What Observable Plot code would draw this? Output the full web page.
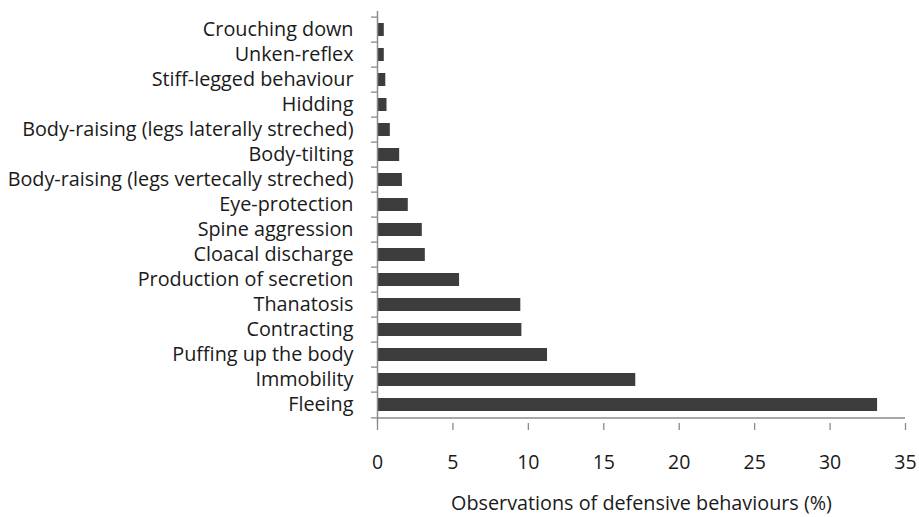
<!DOCTYPE html>
<html>
<head>
<meta charset="utf-8">
<script src="https://cdn.jsdelivr.net/npm/d3@7"></script>
<script src="https://cdn.jsdelivr.net/npm/@observablehq/plot@0.6"></script>
<style>
  html, body { margin: 0; padding: 0; background: #fff; }
  #chart svg { display: block; }
</style>
</head>
<body>
<div id="chart"></div>
<script>
const categories = [
  "Crouching down",
  "Unken-reflex",
  "Stiff-legged behaviour",
  "Hidding",
  "Body-raising (legs laterally streched)",
  "Body-tilting",
  "Body-raising (legs vertecally streched)",
  "Eye-protection",
  "Spine aggression",
  "Cloacal discharge",
  "Production of secretion",
  "Thanatosis",
  "Contracting",
  "Puffing up the body",
  "Immobility",
  "Fleeing"
];
const values = [0.45, 0.45, 0.55, 0.63, 0.85, 1.47, 1.65, 2.04, 2.97, 3.17, 5.44, 9.5, 9.57, 11.27, 17.12, 33.15];
const xTicks = [0, 5, 10, 15, 20, 25, 30, 35];
const xTitle = "Observations of defensive behaviours (%)";

const data = categories.map((c, i) => ({category: c, value: values[i]}));

const W = 919, H = 517;
const mTop = 11, mBottom = 94, mLeft = 377, mRight = 14;
const band = (H - mTop - mBottom) / categories.length;
const font = "'Open Sans', Lato, sans-serif";
const axisColor = "#8a8a8a";
const textColor = "#1a1a1a";
const lastCat = categories[categories.length - 1];

const chart = Plot.plot({
  width: W,
  height: H,
  marginTop: mTop,
  marginBottom: mBottom,
  marginLeft: mLeft,
  marginRight: mRight,
  style: {fontFamily: font, color: textColor, background: "#fff"},
  x: {domain: [0, 35]},
  y: {domain: categories, padding: 0.47},
  marks: [
    Plot.barX(data, {x: "value", y: "category", fill: "#3d3d3d"}),
    // y axis labels
    Plot.axisY({tickSize: 0, tickPadding: 24, fontSize: 19.8, label: null, fill: textColor}),
    // y tick marks at band boundaries
    Plot.axisY({tickSize: 6, text: null, label: null, dy: -band / 2, stroke: axisColor, strokeWidth: 1.3}),
    Plot.axisY({ticks: [lastCat], tickSize: 6, text: null, label: null, dy: band / 2, stroke: axisColor, strokeWidth: 1.3}),
    // y axis line
    Plot.ruleX([0], {stroke: axisColor, strokeWidth: 1.5}),
    // x axis line
    Plot.ruleY([lastCat], {y: d => d, dy: band / 2, stroke: axisColor, strokeWidth: 1.5}),
    Plot.axisX({ticks: xTicks, tickSize: 7, tickPadding: 25, fontSize: 19.5, label: null, stroke: axisColor, strokeWidth: 1.3, fill: textColor}),
    Plot.text([xTitle], {frameAnchor: "bottom", dy: 80, fontSize: 19.8, fill: textColor, lineAnchor: "middle"})
  ]
});
document.getElementById("chart").appendChild(chart);
</script>
</body>
</html>
